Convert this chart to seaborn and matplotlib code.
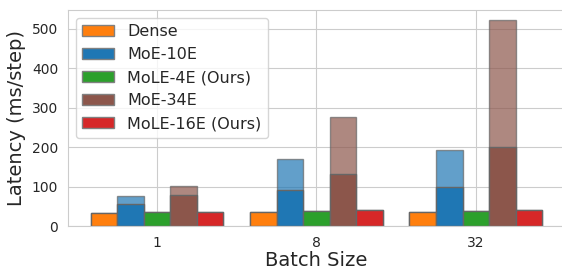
import matplotlib
matplotlib.use('Agg')
import matplotlib.pyplot as plt
import matplotlib.patches as mpatches
import seaborn as sns
import pandas as pd

batch_sizes = ['1', '8', '32']
models = ['Dense', 'MoE-10E', 'MoLE-4E (Ours)', 'MoE-34E', 'MoLE-16E (Ours)']
colors = ['#ff7f0e', '#1f77b4', '#2ca02c', '#8c564b', '#d62728']

# lower (dark) part of each bar
dense = [33, 36, 35]
moe10_base = [56, 92, 99]
mole4 = [35, 38, 38]
moe34_base = [79, 132, 200]
mole16 = [36, 40, 40]

# full height (light part on top) for the MoE bars
moe10_total = [75, 169, 193]
moe34_total = [102, 276, 521]

base = [dense, moe10_base, mole4, moe34_base, mole16]
total = [dense, moe10_total, mole4, moe34_total, mole16]

rows = []
for m, b, t in zip(models, base, total):
    for i, bs in enumerate(batch_sizes):
        rows.append({'batch': bs, 'model': m, 'base': b[i], 'total': t[i]})
df = pd.DataFrame(rows)

sns.set_style('whitegrid')
fig = plt.figure(figsize=(5.62, 2.71), dpi=100)
ax = fig.add_axes([0.121, 0.166, 0.884, 0.797])

palette = dict(zip(models, colors))
sns.barplot(data=df, x='batch', y='total', hue='model', hue_order=models,
            order=batch_sizes, palette=palette, saturation=1, alpha=0.7,
            edgecolor='#666666', linewidth=1, width=0.833, errorbar=None,
            legend=False, ax=ax)
sns.barplot(data=df, x='batch', y='base', hue='model', hue_order=models,
            order=batch_sizes, palette=palette, saturation=1, edgecolor='#666666',
            linewidth=1, width=0.833, errorbar=None, legend=False, ax=ax)

ax.set_xlim(-0.558, 2.558)
ax.set_ylim(0, 547)
ax.xaxis.grid(True)
ax.yaxis.grid(True)
ax.set_axisbelow(True)
ax.set_xlabel('Batch Size', fontsize=14, labelpad=1)
ax.set_ylabel('Latency (ms/step)', fontsize=14)
ax.tick_params(labelsize=10)
ax.set_yticks([0, 100, 200, 300, 400, 500])

handles = [mpatches.Patch(facecolor=c, edgecolor='gray', label=m) for m, c in zip(models, colors)]
ax.legend(handles=handles, loc='upper left', fontsize=11.5)

fig.savefig('out.png', dpi=100)
